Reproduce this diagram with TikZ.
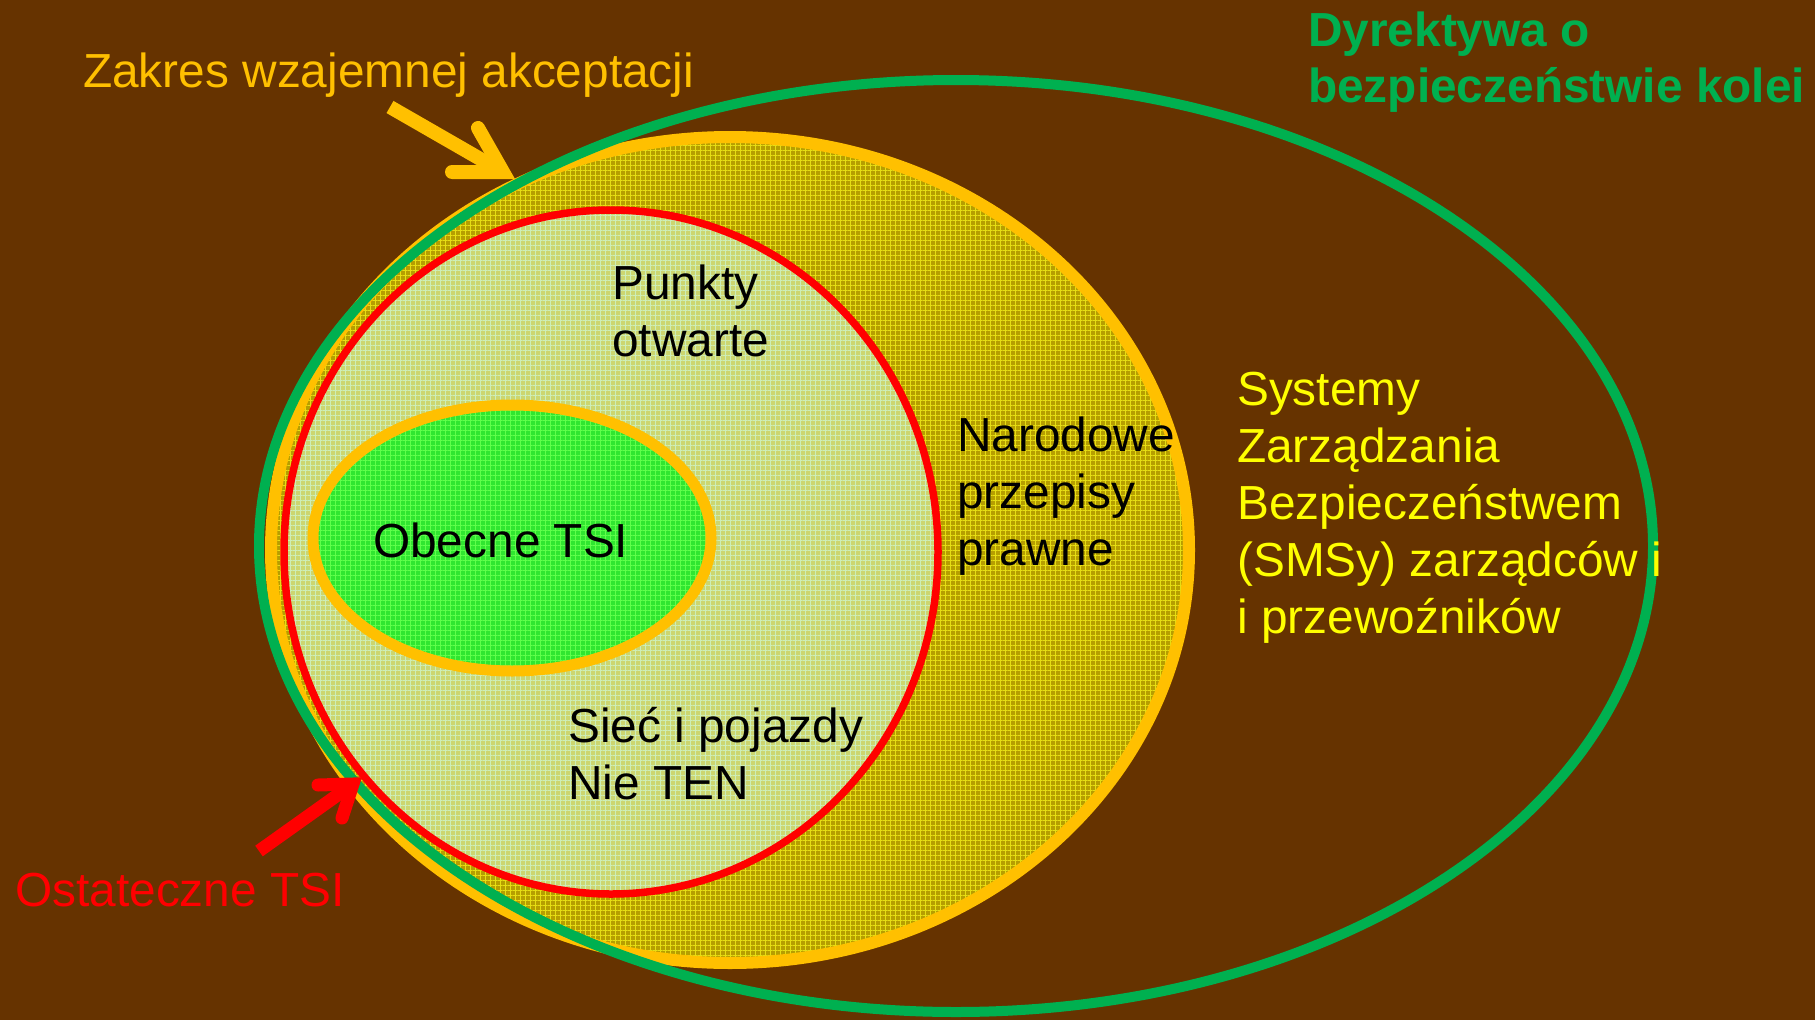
\documentclass[tikz,border=0pt]{standalone}
\usepackage{fontspec}
\setmainfont{Liberation Sans}
\usetikzlibrary{patterns.meta}

\definecolor{bgbrown}{RGB}{102,51,0}
\definecolor{ringgreen}{RGB}{0,176,80}
\definecolor{ringorange}{RGB}{255,192,0}
\definecolor{ringred}{RGB}{255,0,0}
\definecolor{scopefill}{RGB}{182,158,0}
\definecolor{scopegrid}{RGB}{230,222,20}
\definecolor{tsifill}{RGB}{204,214,112}
\definecolor{tsigrid}{RGB}{205,238,185}
\definecolor{curfill}{RGB}{48,230,48}
\definecolor{curgrid}{RGB}{95,255,75}
\definecolor{smsyellow}{RGB}{255,255,0}

% multi-line labels are anchored at the baseline of their last line
\tikzset{
  labeltext/.style={font=\fontsize{47.8}{57}\selectfont, anchor=base west,
    align=left, inner sep=0pt},
  gridfill/.style 2 args={preaction={fill=#1},
    pattern={Hatch[angle=0,distance=5pt,line width=0.7pt]}, pattern color=#2},
  shaftline/.style={line width=14pt, line cap=butt},
  headline/.style={line width=14pt, line cap=round, line join=miter},
}

\begin{document}
\begin{tikzpicture}[x=1pt,y=-1pt]
  % canvas
  \fill[bgbrown] (0,0) rectangle (1815,1020);
  \useasboundingbox (0,0) rectangle (1815,1020);

  % scope of mutual acceptance
  \path[gridfill={scopefill}{scopegrid}] (730,550) ellipse [x radius=459, y radius=413];
  \draw[ringorange, line width=12pt] (730,550) ellipse [x radius=459, y radius=413];

  % railway safety directive
  \draw[ringgreen, line width=10pt] (956,546) ellipse [x radius=697, y radius=466];

  % final TSIs
  \path[gridfill={tsifill}{tsigrid}] (611,552) ellipse [x radius=327, y radius=342];
  \draw[ringred, line width=7.5pt] (611,552) ellipse [x radius=327, y radius=342];

  % current TSIs
  \path[gridfill={curfill}{curgrid}] (512,538) ellipse [x radius=199, y radius=133];
  \draw[ringorange, line width=11pt] (512,538) ellipse [x radius=199, y radius=133];

  % labels
  \node[labeltext, text=ringorange] (zakres) at (83,87) {Zakres wzajemnej akceptacji};
  \node[labeltext, text=ringgreen, font=\bfseries\fontsize{47.8}{56}\selectfont]
    (dyrektywa) at (1308,102) {Dyrektywa o\\bezpieczeństwie kolei};
  \node[labeltext, text=smsyellow] (sms) at (1237,633)
    {Systemy\\Zarządzania\\Bezpieczeństwem\\(SMSy) zarządców i\\i przewoźników};
  \node[labeltext] (punkty) at (612,356) {Punkty\\otwarte};
  \node[labeltext] (narodowe) at (957,565) {Narodowe\\przepisy\\prawne};
  \node[labeltext] (obecne) at (373,557) {Obecne TSI};
  \node[labeltext] (siec) at (568,799) {Sieć i pojazdy\\Nie TEN};
  \node[labeltext, text=ringred] (ostateczne) at (15,906) {Ostateczne TSI};

  % pointer to the scope of mutual acceptance
  \coordinate (zTail) at (390,107);
  \coordinate (zTip) at (503,172);
  \coordinate (zBarbA) at (478,128);
  \coordinate (zBarbB) at (452,172);
  \draw[ringorange, shaftline] (zTail) -- (zTip);
  \draw[ringorange, headline] (zBarbA) -- (zTip) -- (zBarbB);

  % pointer to the final TSIs
  \coordinate (oTail) at (259,851);
  \coordinate (oTip) at (353,784);
  \coordinate (oBarbA) at (318,785);
  \coordinate (oBarbB) at (342,818);
  \draw[ringred, shaftline, line width=13pt] (oTail) -- (oTip);
  \draw[ringred, headline, line width=13pt] (oBarbA) -- (oTip) -- (oBarbB);
\end{tikzpicture}
\end{document}
